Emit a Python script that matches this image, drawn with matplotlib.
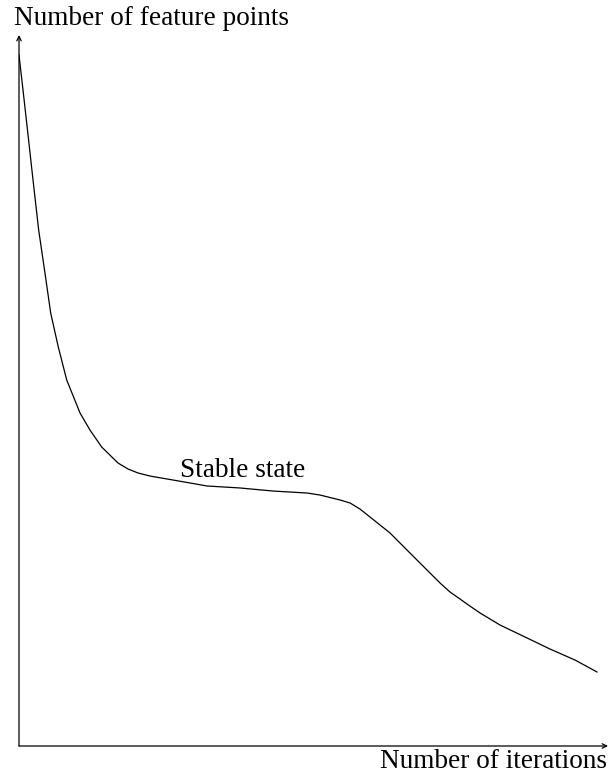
import matplotlib
matplotlib.use("Agg")
import matplotlib.pyplot as plt

plt.rcParams['font.family'] = ['Liberation Serif', 'DejaVu Serif']

# Curve values (abstract units, 0..100 on both axes)
iterations = [0, 0.68, 1.44, 2.38, 3.34, 4.58, 5.38, 6.67, 8.10, 10.36, 12.05,
              14.04, 16.81, 18.51, 20.20, 22.24, 26.15, 31.92, 37.52, 43.12,
              48.90, 51.10, 52.80, 54.50, 56.20, 57.89, 59.59, 62.99, 66.38,
              69.78, 71.48, 73.17, 74.87, 76.06, 78.27, 81.66, 85.91, 90.15,
              94.40, 98.13]
feature_points = [97.19, 92.26, 86.64, 79.61, 72.57, 65.54, 60.90, 56.12,
                  51.48, 46.84, 44.44, 42.05, 39.80, 38.96, 38.40, 37.97,
                  37.41, 36.57, 36.29, 35.86, 35.58, 35.30, 34.95, 34.60,
                  34.18, 33.33, 32.21, 29.96, 27.14, 24.33, 22.93, 21.66,
                  20.68, 19.97, 18.71, 17.02, 15.33, 13.64, 12.09, 10.41]

xlabel = "Number of iterations"
ylabel = "Number of feature points"
annotation = "Stable state"

W, H = 610, 776
fig = plt.figure(figsize=(W / 100, H / 100), dpi=100)
ax = fig.add_axes([19 / W, (H - 746) / H, 589 / W, 711 / H])
ax.set_xlim(0, 100)
ax.set_ylim(0, 100)
ax.axis('off')

ax.plot(iterations, feature_points, color='black', lw=0.9,
        solid_joinstyle='round')

arrow = dict(arrowstyle='->', color='black', lw=0.9, shrinkA=0, shrinkB=0,
             mutation_scale=8)
ax.annotate('', xy=(0, 100), xytext=(0, 0), arrowprops=arrow,
            annotation_clip=False)
ax.annotate('', xy=(100, 0), xytext=(0, 0), arrowprops=arrow,
            annotation_clip=False)

fig.text(14 / W, 1 - 25 / H, ylabel, fontsize=19.6, ha='left', va='baseline')
fig.text(607 / W, 1 - 768 / H, xlabel, fontsize=19.6, ha='right', va='baseline')
ax.text(27.3, 37.9, annotation, fontsize=19.6, ha='left', va='baseline')

fig.savefig('out.png', dpi=100)
